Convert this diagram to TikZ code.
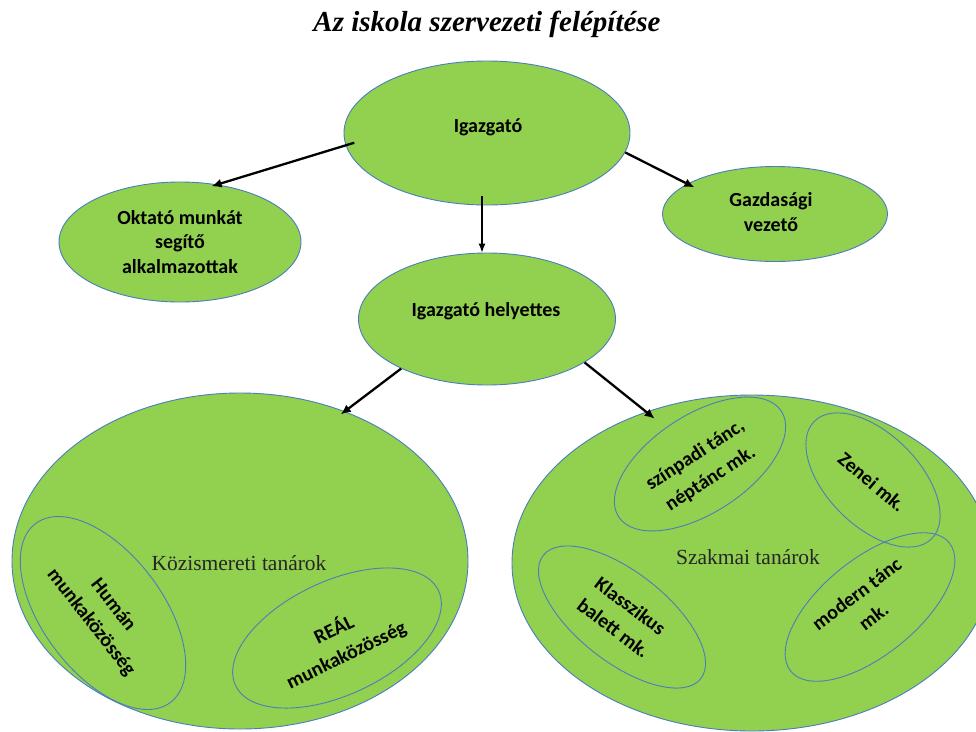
\documentclass[tikz,border=0pt]{standalone}
\usepackage{fontspec}
\setmainfont{Liberation Serif}
\newfontfamily\calfont{Carlito}
\usetikzlibrary{shapes.geometric,arrows.meta,calc}
\definecolor{leafgreen}{RGB}{146,208,80}
\definecolor{rimblue}{RGB}{74,126,187}
\begin{document}
\begin{tikzpicture}[x=1pt,y=-1pt,
  blob/.style={ellipse,draw=rimblue,fill=leafgreen,line width=0.9pt,inner sep=0pt},
  ring/.style={ellipse,draw=rimblue,line width=0.9pt,inner sep=0pt},
  lbl/.style={font=\calfont\bfseries\fontsize{20}{24.5}\selectfont,align=center,text=black,inner sep=0pt},
  rlbl/.style={font=\calfont\bfseries\fontsize{20}{28}\selectfont,align=center,text=black,inner sep=0pt},
  bigl/.style={font=\fontsize{21.5}{26}\selectfont,text=black!85,inner sep=0pt},
  thickarrow/.style={-{Latex[length=10pt,width=9pt]},line width=2.3pt},
  thinarrow/.style={-{Latex[length=9pt,width=7pt]},line width=1.1pt}]
\useasboundingbox[fill=white] (0,0) rectangle (976,731);

% title
\node[font=\bfseries\itshape\fontsize{29}{34}\selectfont,inner sep=0pt] (title) at (487,24) {Az iskola szervezeti felépítése};

% top level ellipses
\node[blob,minimum width=286pt,minimum height=144pt] (igaz) at (487,133) {};
\node[blob,minimum width=242pt,minimum height=120pt] (okt) at (180,242) {};
\node[blob,minimum width=225pt,minimum height=95pt] (gazd) at (775,214) {};
\node[blob,minimum width=257pt,minimum height=132pt] (help) at (487,319) {};

% big ellipses
\node[blob,minimum width=456pt,minimum height=336pt] (kozis) at (240,561) {};
\node[blob,minimum width=480pt,minimum height=336pt] (szakm) at (752,563) {};

% inner rings
\node[ring,minimum width=224pt,minimum height=120pt,rotate=-53] (human) at (103,613) {};
\node[ring,minimum width=224pt,minimum height=114pt,rotate=25] (real) at (337,638) {};
\node[ring,minimum width=194pt,minimum height=98pt,rotate=33] (szinp) at (700,464) {};
\node[ring,minimum width=166pt,minimum height=92pt,rotate=-45] (zenei) at (873,480) {};
\node[ring,minimum width=204pt,minimum height=96pt,rotate=39] (modern) at (870,607) {};
\node[ring,minimum width=200pt,minimum height=90pt,rotate=-38] (klassz) at (622,617) {};

% labels
\node[lbl] (igazT) at (488,127) {Igazgató};
\node[lbl] (oktT) at (180,242) {Oktató munkát\\segítő\\alkalmazottak};
\node[lbl] (gazdT) at (771,212) {Gazdasági\\vezető};
\node[lbl] (helpT) at (486,311) {Igazgató helyettes};
\node[bigl] (kozisT) at (239,563) {Közismereti tanárok};
\node[bigl] (szakmT) at (748,557) {Szakmai tanárok};

\node[rlbl,rotate=-52] (humanT) at (102,614) {Humán\\munkaközösség};
\node[rlbl,rotate=26] (realT) at (340,642) {REÁL\\munkaközösség};
\node[rlbl,rotate=33] (szinpT) at (703,467) {színpadi tánc,\\néptánc mk.};
\node[rlbl,rotate=-40] (zeneiT) at (872,482) {Zenei mk.};
\node[rlbl,rotate=37] (modernT) at (865,605) {modern tánc\\mk.};
\node[rlbl,rotate=-37] (klasszT) at (622,617) {Klasszikus\\balett mk.};

% connectors
\draw[thickarrow,shorten <=-9pt,shorten >=-6pt] (igaz.185) -- (okt.57);
\draw[thickarrow,shorten >=-8pt] (igaz.-8) -- (gazd.161);
\draw[thinarrow] ([xshift=-5pt,yshift=9pt]igaz.south) -- ([xshift=-5pt]help.north);
\draw[thickarrow,shorten >=-5pt] (help.210) -- (kozis.55);
\draw[thickarrow,shorten >=-11pt] (help.-24) -- (szakm.125);
\end{tikzpicture}
\end{document}
